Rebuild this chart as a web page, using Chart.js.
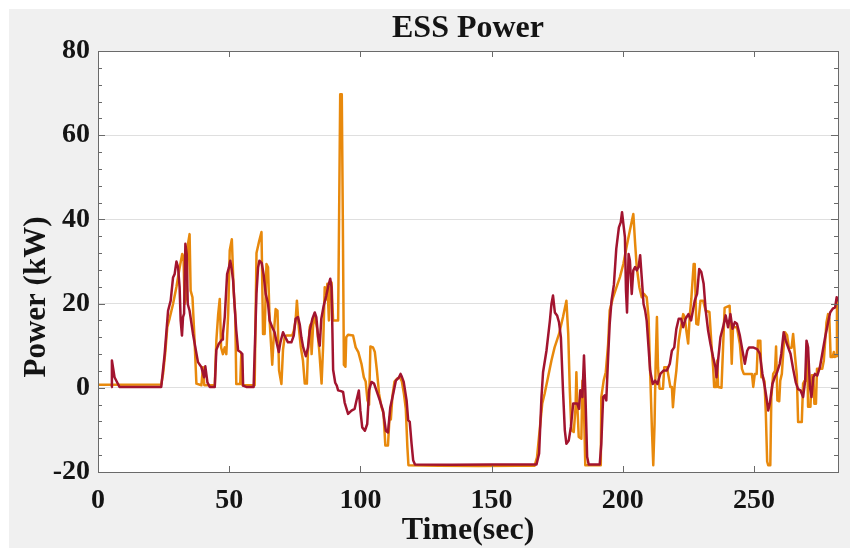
<!DOCTYPE html>
<html>
<head>
<meta charset="utf-8">
<script src="https://cdn.jsdelivr.net/npm/chart.js@4.4.1/dist/chart.umd.min.js"></script>
<style>
  html, body { margin: 0; padding: 0; background: #ffffff; }
  #wrap { width: 850px; height: 548px; }
</style>
</head>
<body>
<div id="wrap"><canvas id="c" width="850" height="548"></canvas></div>
<script>
// ---------------- data ----------------
const TITLE = 'ESS Power';
const XLABEL = 'Time(sec)';
const YLABEL = 'Power (kW)';

const xTicks = [0, 50, 100, 150, 200, 250];
const yTicks = [-20, 0, 20, 40, 60, 80];

// orange series
const orangeT = [0, 24.1, 24.8, 25.7, 26.4, 27.3, 28.6, 29.9, 31.1, 32.1, 32.6, 33.0, 33.7, 34.3, 34.9, 35.3, 36.0, 36.8, 37.5, 39.4, 40.0, 40.5, 44.5, 45.1, 45.8, 46.4, 46.9, 47.6, 48.3, 48.9, 49.6, 50.2, 51.0, 51.7, 52.3, 52.7, 54.2, 54.6, 55.1, 59.7, 60.4, 61.4, 62.3, 62.9, 63.5, 64.2, 64.8, 65.4, 66.4, 67.1, 67.7, 68.4, 69.0, 69.9, 70.5, 71.1, 71.8, 74.0, 74.6, 75.3, 75.8, 76.5, 77.3, 78.1, 78.8, 79.6, 80.0, 80.7, 81.0, 81.4, 82.0, 82.6, 83.5, 84.3, 85.2, 85.8, 86.4, 86.9, 87.4, 88.0, 88.5, 89.0, 89.6, 91.5, 91.9, 92.3, 92.9, 93.3, 93.7, 94.3, 94.6, 95.3, 97.2, 98.2, 99.2, 100.4, 101.3, 102.0, 102.7, 103.3, 103.8, 104.8, 105.5, 106.3, 107.1, 108.0, 108.8, 109.5, 110.5, 111.1, 111.6, 112.2, 113.0, 114.0, 115.0, 115.8, 116.6, 117.3, 117.9, 118.3, 130.0, 145.0, 160.0, 166.4, 167.3, 168.3, 169.3, 170.2, 171.5, 172.8, 174.0, 175.7, 177.2, 178.5, 179.2, 179.8, 180.4, 181.3, 182.0, 182.3, 182.7, 183.2, 184.2, 184.6, 185.1, 185.7, 191.6, 191.8, 192.7, 193.5, 194.4, 195.0, 196.3, 197.6, 198.9, 200.2, 201.4, 202.7, 204.0, 204.7, 205.3, 206.3, 207.2, 208.1, 209.1, 209.8, 210.4, 211.1, 211.6, 212.1, 212.5, 213.0, 213.4, 214.0, 215.3, 215.8, 216.8, 217.5, 218.1, 218.7, 219.1, 219.8, 220.4, 221.3, 221.9, 223.0, 223.6, 224.2, 224.9, 225.5, 226.1, 227.0, 227.4, 228.0, 228.7, 229.6, 230.6, 231.6, 233.0, 233.8, 234.4, 234.8, 235.6, 236.0, 236.3, 237.6, 238.2, 238.8, 240.7, 241.1, 241.5, 242.0, 243.5, 244.6, 245.4, 246.1, 248.4, 249.2, 249.7, 250.3, 251.0, 251.5, 252.4, 252.8, 253.4, 254.0, 254.5, 255.0, 255.4, 256.2, 256.6, 257.3, 258.0, 258.4, 258.9, 259.6, 260.0, 260.6, 261.2, 261.8, 262.6, 263.3, 264.3, 264.9, 265.6, 266.3, 266.8, 268.2, 268.7, 269.3, 269.8, 270.2, 270.6, 271.5, 272.0, 272.6, 273.0, 273.6, 274.0, 276.0, 276.6, 277.6, 278.2, 278.7, 279.2, 280.0, 280.4, 280.8, 281.3, 281.6, 282.0];
const orangeP = [0.7, 0.8, 3.3, 8.8, 14.4, 16.5, 19.9, 24.0, 28.5, 31.8, 31.0, 19.9, 21.5, 34.2, 36.5, 23.1, 21.5, 11.2, 1.0, 0.6, 4.9, 0.6, 0.6, 11.2, 17.5, 21.1, 9.6, 8.0, 9.6, 8.0, 17.5, 32.6, 35.3, 23.1, 17.5, 0.9, 0.9, 8.0, 0.6, 0.6, 32.0, 34.8, 37.0, 12.8, 12.8, 29.4, 28.6, 16.0, 5.5, 13.6, 18.7, 18.3, 4.1, 0.9, 9.0, 12.0, 12.4, 12.4, 13.5, 16.0, 20.7, 14.5, 9.6, 6.5, 1.0, 1.0, 8.5, 14.4, 15.0, 8.0, 15.0, 17.0, 14.0, 9.0, 1.0, 10.0, 23.9, 21.0, 24.7, 16.0, 24.0, 25.0, 16.0, 16.0, 42.0, 69.7, 69.7, 40.0, 5.5, 5.0, 12.0, 12.6, 12.4, 9.6, 8.5, 5.7, 2.5, 1.5, -3.0, -4.0, 9.8, 9.6, 8.5, 4.0, -1.4, -4.5, -6.0, -13.7, -13.7, -7.0, -7.5, -2.0, 1.5, 2.2, 2.5, 1.5, -1.5, -5.0, -14.1, -18.4, -18.5, -18.6, -18.5, -18.5, -16.5, -10.1, -3.7, -1.4, 2.5, 6.5, 9.6, 12.8, 16.8, 20.7, 12.8, -0.6, -10.1, -10.5, -4.6, 3.7, -4.6, -11.7, -12.1, 1.7, -2.2, -18.4, -18.4, -2.2, 1.7, 3.7, 10.4, 18.4, 21.5, 23.9, 26.3, 29.4, 33.4, 37.4, 41.3, 34.2, 28.7, 23.9, 21.5, 22.3, 21.5, 16.8, 4.1, -10.1, -18.4, -8.5, 5.7, 16.8, 4.9, -0.2, -0.2, 4.9, 4.9, 2.5, 0.2, 0.2, -4.6, 0.9, 4.1, 11.2, 13.6, 17.5, 16.8, 13.6, 10.5, 17.0, 21.1, 29.4, 29.4, 15.2, 15.0, 20.7, 20.7, 18.3, 18.0, 10.0, 5.0, 0.2, 0.2, 6.5, 0.2, 0.0, 9.6, 19.0, 19.5, 14.0, 5.7, 14.4, 14.4, 10.4, 4.5, 3.3, 3.3, 3.3, 0.2, 3.3, 3.3, 11.2, 11.2, 2.5, 2.5, 1.5, -6.2, -17.5, -18.4, -18.4, -2.2, 3.3, 4.0, 9.8, -3.0, -3.2, 1.7, 3.3, 9.0, 13.2, 12.5, 9.5, 9.5, 12.8, 7.7, 3.0, -8.1, -8.1, 1.0, 1.7, 1.7, 10.5, -4.5, -4.5, 3.0, 3.0, -3.8, -3.8, 4.5, 4.5, 6.5, 15.5, 17.5, 16.5, 7.3, 7.3, 8.5, 7.3, 7.5, 20.5, 21.5];

// dark red series
const redT = [5.0, 5.3, 6.3, 8.2, 24.1, 25.4, 26.7, 27.7, 28.6, 29.2, 29.9, 30.5, 31.1, 31.5, 32.0, 32.4, 32.8, 33.3, 33.8, 34.2, 34.9, 36.2, 37.1, 38.1, 39.4, 40.4, 40.9, 41.7, 42.6, 44.5, 45.1, 46.0, 47.3, 47.6, 48.3, 49.2, 49.9, 50.4, 51.0, 51.5, 52.1, 52.7, 53.4, 54.3, 55.0, 55.3, 56.5, 59.3, 60.4, 61.0, 61.5, 62.4, 63.1, 63.9, 64.8, 65.4, 66.4, 67.3, 68.2, 68.9, 69.5, 70.5, 71.4, 72.4, 73.7, 74.6, 75.3, 76.2, 76.9, 77.5, 78.2, 79.2, 80.0, 80.7, 81.7, 82.6, 83.2, 83.9, 84.5, 85.1, 86.0, 87.0, 87.8, 88.5, 89.0, 89.3, 89.6, 90.4, 91.0, 91.5, 92.6, 93.4, 94.0, 95.3, 96.6, 97.8, 98.5, 99.4, 100.0, 100.7, 101.7, 102.6, 103.3, 104.2, 105.2, 106.1, 107.4, 108.6, 109.7, 110.5, 111.4, 112.5, 113.5, 114.7, 115.3, 115.8, 116.5, 117.6, 118.2, 118.8, 119.5, 120.1, 120.8, 135.0, 150.0, 167.1, 168.1, 169.0, 169.6, 170.9, 172.2, 172.8, 173.4, 174.1, 175.0, 175.7, 176.4, 177.2, 177.9, 178.5, 179.4, 180.2, 181.1, 182.6, 183.3, 183.8, 184.6, 185.2, 185.7, 186.4, 187.0, 191.2, 191.8, 192.5, 193.1, 193.7, 194.4, 195.0, 195.7, 196.6, 197.5, 198.5, 199.2, 199.7, 200.2, 200.8, 201.2, 201.6, 202.2, 202.7, 203.4, 204.0, 204.7, 205.3, 206.0, 206.6, 207.2, 207.9, 208.5, 209.1, 209.8, 210.4, 211.4, 212.3, 213.2, 214.3, 215.5, 216.8, 217.9, 218.7, 219.6, 220.4, 221.3, 222.2, 223.0, 223.9, 225.0, 226.0, 227.4, 228.3, 229.1, 229.9, 230.8, 231.6, 232.5, 233.4, 234.4, 235.3, 235.7, 236.3, 237.2, 238.2, 239.2, 240.1, 241.0, 241.8, 242.7, 243.5, 244.6, 245.6, 246.5, 247.4, 248.1, 249.6, 251.2, 252.2, 253.2, 254.1, 254.7, 255.4, 256.0, 257.0, 257.9, 258.8, 259.8, 260.4, 261.3, 262.1, 263.0, 263.9, 264.9, 265.9, 266.8, 267.7, 268.7, 269.5, 270.0, 270.6, 271.3, 271.9, 272.6, 273.2, 274.1, 275.1, 276.2, 277.1, 278.0, 279.0, 280.0, 280.9, 281.5, 282.0];
const redP = [0.2, 6.5, 2.5, 0.2, 0.2, 8.0, 18.3, 20.7, 26.2, 27.0, 30.0, 28.7, 23.9, 16.0, 12.4, 16.8, 17.6, 34.2, 31.8, 19.9, 18.3, 12.8, 9.6, 6.1, 4.9, 2.5, 5.1, 1.3, 0.2, 0.2, 9.0, 10.4, 11.5, 12.8, 16.8, 27.0, 28.6, 30.2, 28.0, 25.4, 19.1, 13.6, 8.85, 8.5, 8.0, 0.5, 0.2, 0.2, 22.5, 28.6, 30.2, 29.6, 27.0, 22.3, 20.0, 16.0, 14.4, 13.2, 10.4, 8.5, 10.8, 13.2, 12.0, 10.8, 10.8, 12.4, 16.4, 16.8, 15.0, 12.0, 9.6, 7.5, 9.5, 13.6, 16.4, 17.9, 16.8, 12.0, 10.0, 16.4, 19.5, 21.9, 24.3, 25.9, 23.9, 14.4, 4.3, 1.2, 0.5, -0.6, -0.8, -1.0, -3.5, -6.2, -5.4, -5.0, -3.0, -0.63, -5.5, -9.4, -10.2, -8.6, -0.63, 1.4, 1.0, -0.63, -3.0, -5.4, -10.2, -10.6, -4.6, -1.4, 1.7, 2.5, 3.3, 2.6, 1.4, -3.0, -7.7, -8.1, -13.3, -17.2, -18.2, -18.3, -18.2, -18.2, -15.6, -2.2, 3.7, 8.8, 15.9, 19.9, 21.9, 17.9, 17.1, 15.5, 12.0, -0.6, -10.1, -13.3, -12.5, -9.3, -3.7, -3.7, -5.0, -0.6, -2.2, 7.7, -0.6, -16.4, -18.2, -18.2, -13.3, -2.2, -1.8, -3.0, 7.3, 15.2, 20.7, 24.5, 33.0, 38.1, 39.3, 41.7, 39.0, 35.8, 23.1, 17.9, 31.8, 30.2, 22.3, 27.9, 28.7, 27.9, 28.7, 31.5, 26.3, 19.9, 18.4, 15.9, 9.6, 4.1, 0.9, 1.7, 0.9, 3.3, 4.1, 4.1, 5.7, 8.8, 9.6, 14.0, 16.4, 16.4, 14.4, 16.4, 17.5, 16.0, 20.7, 22.3, 28.2, 27.5, 24.7, 18.3, 13.6, 10.4, 7.3, 4.9, 2.5, 6.5, 12.0, 14.4, 17.2, 14.4, 17.5, 14.0, 15.6, 15.2, 12.4, 8.8, 5.7, 8.8, 9.6, 9.6, 9.2, 8.1, 3.3, 0.2, -2.2, -5.4, -3.8, 0.9, 2.5, 3.7, 5.7, 8.1, 13.2, 11.2, 9.6, 8.1, 4.5, 1.3, -0.3, -0.6, -2.2, 1.7, 11.2, 9.6, 0.2, -2.2, 2.5, 3.3, 2.9, 4.9, 8.8, 12.0, 14.8, 17.9, 18.8, 19.1, 21.5, 20.5];

// ---------------- styling ----------------
const ORANGE = '#E8890C';
const RED = '#A2142F';
const FONT = '"Liberation Serif", "Times New Roman", serif';
const TEXT = '#141414';
const AXIS = '#6A6A6A';

function pts(ts, vs) { return ts.map((t, i) => ({ x: t, y: vs[i] })); }

const decor = {
  id: 'decor',
  beforeDraw(chart) {
    const { ctx, chartArea: a } = chart;
    ctx.save();
    ctx.fillStyle = '#ffffff';
    ctx.fillRect(0, 0, chart.width, chart.height);
    ctx.fillStyle = '#F0F0F0';
    ctx.fillRect(9, 9, chart.width - 9, chart.height - 9);
    ctx.fillStyle = '#ffffff';
    ctx.fillRect(a.left, a.top, a.right - a.left, a.bottom - a.top);
    ctx.restore();
  },
  afterDraw(chart) {
    const { ctx, chartArea: a } = chart;
    const xs = chart.scales.x, ys = chart.scales.y;
    ctx.save();
    ctx.strokeStyle = AXIS;
    ctx.lineWidth = 1;
    ctx.beginPath();
    // x major ticks (bottom and top, inward)
    xTicks.forEach(v => {
      const px = Math.round(xs.getPixelForValue(v)) + 0.5;
      ctx.moveTo(px, a.bottom); ctx.lineTo(px, a.bottom - 6);
      ctx.moveTo(px, a.top); ctx.lineTo(px, a.top + 6);
    });
    // y ticks: minor every 4, major every 20
    for (let v = -20; v <= 80; v += 4) {
      const py = Math.round(ys.getPixelForValue(v)) + 0.5;
      const len = (v % 20 === 0) ? 7 : 4;
      ctx.moveTo(a.left, py); ctx.lineTo(a.left + len, py);
      ctx.moveTo(a.right, py); ctx.lineTo(a.right - len, py);
    }
    ctx.stroke();
    // box
    ctx.strokeRect(Math.round(a.left) + 0.5, Math.round(a.top) + 0.5,
                   Math.round(a.right - a.left), Math.round(a.bottom - a.top));
    // texts
    ctx.fillStyle = TEXT;
    ctx.textAlign = 'center';
    ctx.textBaseline = 'alphabetic';
    const cx = (a.left + a.right) / 2;
    ctx.font = 'bold 32px ' + FONT;
    ctx.fillText(TITLE, cx, 37);
    ctx.font = 'bold 32px ' + FONT;
    ctx.fillText(XLABEL, cx, 539);
    ctx.translate(45, 297);
    ctx.rotate(-Math.PI / 2);
    ctx.font = 'bold 31px ' + FONT;
    ctx.fillText(YLABEL, 0, 0);
    ctx.restore();
  }
};

new Chart(document.getElementById('c'), {
  type: 'line',
  data: {
    datasets: [
      { label: 'ESS power (red)', data: pts(redT, redP), borderColor: RED, borderWidth: 2.5,
        pointRadius: 0, tension: 0, fill: false, order: 0, borderJoinStyle: 'round' },
      { label: 'ESS power (orange)', data: pts(orangeT, orangeP), borderColor: ORANGE, borderWidth: 2.5,
        pointRadius: 0, tension: 0, fill: false, order: 1, borderJoinStyle: 'round' }
    ]
  },
  options: {
    responsive: false,
    animation: false,
    events: [],
    layout: { padding: { left: 0, right: 12, top: 51, bottom: 0 } },
    plugins: { legend: { display: false }, title: { display: false }, tooltip: { enabled: false } },
    scales: {
      x: {
        type: 'linear', min: 0, max: 282,
        afterBuildTicks: s => { s.ticks = xTicks.map(v => ({ value: v })); },
        afterFit: s => { s.height = 76; },
        grid: { display: false, drawTicks: false },
        border: { display: false },
        ticks: { padding: 12, color: TEXT, font: { family: FONT, size: 28, weight: 'bold' }, maxRotation: 0 }
      },
      y: {
        type: 'linear', min: -20, max: 80,
        afterBuildTicks: s => { s.ticks = yTicks.map(v => ({ value: v })); },
        afterFit: s => { s.width = 98; },
        grid: { color: '#DFDFDF', lineWidth: 1, drawTicks: false },
        border: { display: false },
        ticks: { padding: 8, color: TEXT, font: { family: FONT, size: 28, weight: 'bold' } }
      }
    }
  },
  plugins: [decor]
});
</script>
</body>
</html>
